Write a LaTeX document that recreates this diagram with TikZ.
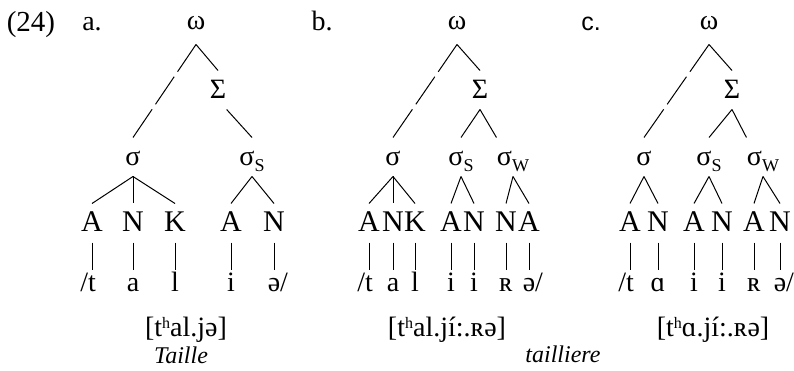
\documentclass[tikz,border=0pt]{standalone}
\usepackage{fontspec}
\setmainfont{Liberation Serif}
\newfontfamily\labsans{Liberation Sans}
\usetikzlibrary{calc}

\newcommand\subsc[1]{\raisebox{-6pt}{\fontsize{18}{18}\selectfont #1}}
\newcommand\asp{\raisebox{8pt}{\fontsize{16}{16}\selectfont h}}

\tikzset{
  lvl/.style={inner sep=0pt, text height=28pt, text depth=10pt, anchor=base},
  root/.style={inner sep=0pt, text depth=14pt, anchor=base},
  seg/.style={lvl, font=\fontsize{30}{32}\selectfont},
  ph/.style={inner sep=0pt, text height=21pt, anchor=base, font=\fontsize{28}{30}\selectfont},
  gap/.style={inner sep=0pt, minimum size=4pt},
  txt/.style={inner sep=0pt, anchor=base},
  gloss/.style={txt, font=\fontsize{24}{26}\selectfont\itshape}
}

\begin{document}
\begin{tikzpicture}[x=1pt, y=-1pt, line width=1pt, font=\fontsize{28}{30}\selectfont]
  \useasboundingbox (0,0) rectangle (794,371);

  % ==== EXAMPLE LABELS ====
  \node[txt, font=\fontsize{29}{31}\selectfont] (ex) at (31,32) {(24)};
  \node[txt] (la) at (92,31) {a.};
  \node[txt] (lb) at (322,31) {b.};
  \node[txt, font=\fontsize{25}{28}\selectfont\labsans] (lc) at (591,31) {c.};

  % ==== TREE A ====
  \node[root] (wa) at (196,30) {ω};
  \node[lvl] (Sa) at (218,99) {Σ};
  \node[lvl] (sa) at (133,166) {σ};
  \node[lvl] (sSa) at (252,166) {σ\subsc{S}};
  \foreach \n/\x/\t in {1/92/A, 2/133/N, 3/175/K, 4/231/A, 5/274/N}
    \node[seg] (a\n) at (\x,232) {\t};
  \node[ph] (pa1) at (92,291) {\llap{/}t};
  \node[ph] (pa2) at (133,291) {a};
  \node[ph] (pa3) at (175,291) {l};
  \node[ph] (pa4) at (231,291) {i};
  \node[ph] (pa5) at (274,291) {ə\rlap{/}};
  \node[gap] (ga1) at ($(wa.south)!.32!(sa.north)$) {};
  \node[gap] (ga2) at ($(wa.south)!.67!(sa.north)$) {};

  \draw (wa.south) -- (ga1) (ga1) -- (ga2) (ga2) -- (sa.north);
  \draw (wa.south) -- (Sa.north);
  \draw (Sa.south east) -- (sSa.north);
  \foreach \n in {1,2,3} \draw (sa.south) -- (a\n.north);
  \foreach \n in {4,5} \draw (sSa.south) -- (a\n.north);
  \foreach \n in {1,...,5} \draw (a\n.south) -- (pa\n.north);

  \node[txt] (ta) at (186,336) {[t\asp al.jə]};
  \node[gloss] (gla) at (181,363) {Taille};

  % ==== TREE B ====
  \node[root] (wb) at (457,30) {ω};
  \node[lvl] (Sb) at (480,99) {Σ};
  \node[lvl] (sb) at (393,166) {σ};
  \node[lvl] (sSb) at (461,166) {σ\subsc{S}};
  \node[lvl] (sWb) at (513,166) {σ\subsc{W}};
  \foreach \n/\x/\t in {1/369/A, 2/393/N, 3/415/K, 4/451/A, 5/474/N, 6/506/N, 7/529/A}
    \node[seg] (b\n) at (\x,232) {\t};
  \node[ph] (pb1) at (369,291) {\llap{/}t};
  \node[ph] (pb2) at (393,291) {a};
  \node[ph] (pb3) at (415,291) {l};
  \node[ph] (pb4) at (451,291) {i};
  \node[ph] (pb5) at (474,291) {i};
  \node[ph] (pb6) at (506,291) {ʀ};
  \node[ph] (pb7) at (529,291) {ə\rlap{/}};
  \node[gap] (gb1) at ($(wb.south)!.32!(sb.north)$) {};
  \node[gap] (gb2) at ($(wb.south)!.67!(sb.north)$) {};

  \draw (wb.south) -- (gb1) (gb1) -- (gb2) (gb2) -- (sb.north);
  \draw (wb.south) -- (Sb.north);
  \draw (Sb.south) -- (sSb.north);
  \draw (Sb.south) -- (sWb.north west);
  \foreach \n in {1,2,3} \draw (sb.south) -- (b\n.north);
  \foreach \n in {4,5} \draw (sSb.south) -- (b\n.north);
  \foreach \n in {6,7} \draw (sWb.south) -- (b\n.north);
  \foreach \n in {1,...,7} \draw (b\n.south) -- (pb\n.north);

  \node[txt] (tb) at (447,336) {[t\asp al.jí:.ʀə]};

  % ==== TREE C ====
  \node[root] (wc) at (709,30) {ω};
  \node[lvl] (Sc) at (732,99) {Σ};
  \node[lvl] (sc) at (644,166) {σ};
  \node[lvl] (sSc) at (709,166) {σ\subsc{S}};
  \node[lvl] (sWc) at (763,166) {σ\subsc{W}};
  \foreach \n/\x/\t in {1/630/A, 2/658/N, 3/694/A, 4/722/N, 5/754/A, 6/780/N}
    \node[seg] (c\n) at (\x,232) {\t};
  \node[ph] (pc1) at (630,291) {\llap{/}t};
  \node[ph] (pc2) at (658,291) {ɑ};
  \node[ph] (pc3) at (694,291) {i};
  \node[ph] (pc4) at (722,291) {i};
  \node[ph] (pc5) at (754,291) {ʀ};
  \node[ph] (pc6) at (780,291) {ə\rlap{/}};
  \node[gap] (gc1) at ($(wc.south)!.32!(sc.north)$) {};
  \node[gap] (gc2) at ($(wc.south)!.67!(sc.north)$) {};

  \draw (wc.south) -- (gc1) (gc1) -- (gc2) (gc2) -- (sc.north);
  \draw (wc.south) -- (Sc.north);
  \draw (Sc.south) -- (sSc.north);
  \draw (Sc.south) -- (sWc.north west);
  \foreach \n in {1,2} \draw (sc.south) -- (c\n.north);
  \foreach \n in {3,4} \draw (sSc.south) -- (c\n.north);
  \foreach \n in {5,6} \draw (sWc.south) -- (c\n.north);
  \foreach \n in {1,...,6} \draw (c\n.south) -- (pc\n.north);

  \node[txt] (tc) at (713,336) {[t\asp ɑ.jí:.ʀə]};
  \node[gloss] (glb) at (563,362) {tailliere};

\end{tikzpicture}
\end{document}
